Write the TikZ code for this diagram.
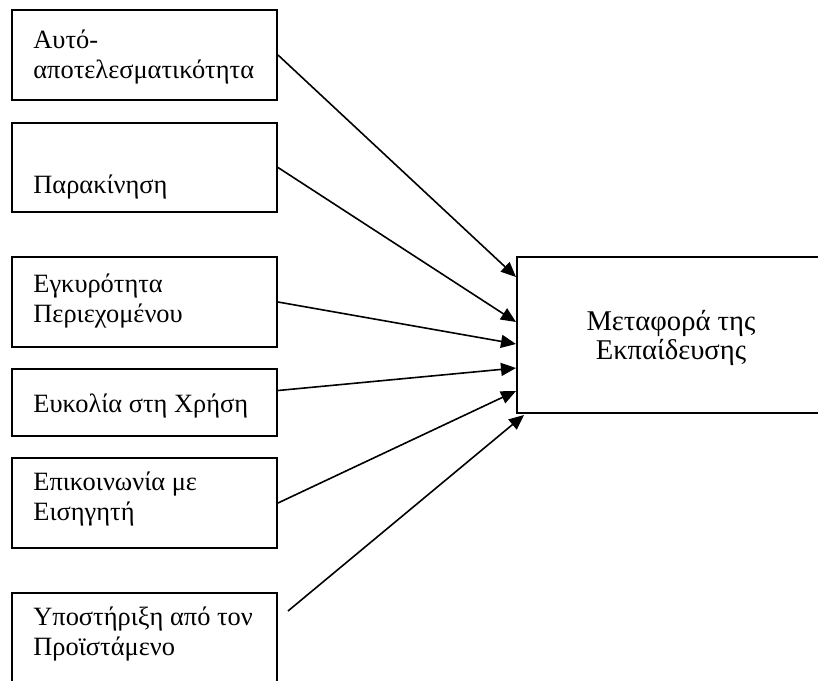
\documentclass[tikz,border=0pt]{standalone}
\usepackage{fontspec}
\setmainfont{Liberation Serif}
\usetikzlibrary{arrows.meta,calc}

\begin{document}
\begin{tikzpicture}[x=0.5pt,y=-0.5pt,
    factor/.style={draw=black, line width=1pt, fill=white,
        minimum width=132.5pt, inner sep=0pt},
    outcome/.style={draw=black, line width=1pt, fill=white,
        minimum width=156pt, minimum height=78pt, inner sep=0pt},
    lbl/.style={anchor=base west, inner sep=0pt, align=left,
        font=\fontsize{13.2}{15}\selectfont},
    bigtext/.style={anchor=base, inner sep=0pt, align=center,
        font=\fontsize{14.3}{14.5}\selectfont},
    link/.style={-{Triangle[length=7.5pt,width=6.5pt]}, line width=0.8pt}]

  \useasboundingbox (0,0) rectangle (818,680);
  \clip (0,0) rectangle (818,680);
  \fill[white] (0,0) rectangle (818,680);

  %% Factors
  \node[factor, minimum height=45pt]   (b1) at (144.5,55)  {};
  \node[factor, minimum height=44.5pt] (b2) at (144.5,167.5) {};
  \node[factor, minimum height=45pt]   (b3) at (144.5,302) {};
  \node[factor, minimum height=33.5pt] (b4) at (144.5,402.5) {};
  \node[factor, minimum height=45pt]   (b5) at (144.5,503) {};
  \node[factor, minimum height=46pt]   (b6) at (144.5,639) {};

  % base anchor sits on the last line
  \node[lbl] (t1) at (33,78)  {Αυτό-\\αποτελεσματικότητα};
  \node[lbl] (t2) at (33,193) {Παρακίνηση};
  \node[lbl] (t3) at (33,322) {Εγκυρότητα\\Περιεχομένου};
  \node[lbl] (t4) at (33,412) {Ευκολία στη Χρήση};
  \node[lbl] (t5) at (33,520) {Επικοινωνία με\\Εισηγητή};
  \node[lbl] (t6) at (33,655) {Υποστήριξη από τον\\Προϊστάμενο};

  %% Outcome
  \node[outcome] (m) at (673,335) {};
  \node[bigtext] (mt) at (671,359) {Μεταφορά της\\Εκπαίδευσης};

  %% Links
  \draw[link] (b1.east) -- ($(m.north west)+(0,21)$);
  \draw[link] (b2.east) -- ($(m.north west)+(0,66)$);
  \draw[link] (b3.east) -- ($(m.north west)+(0,88)$);
  \draw[link] ($(b4.east)+(0,-12)$) -- ($(m.north west)+(0,112)$);
  \draw[link] (b5.east) -- ($(m.north west)+(0,135)$);
  \draw[link] ($(b6.north east)+(10,19)$) -- ($(m.south west)+(8,1)$);

\end{tikzpicture}
\end{document}
